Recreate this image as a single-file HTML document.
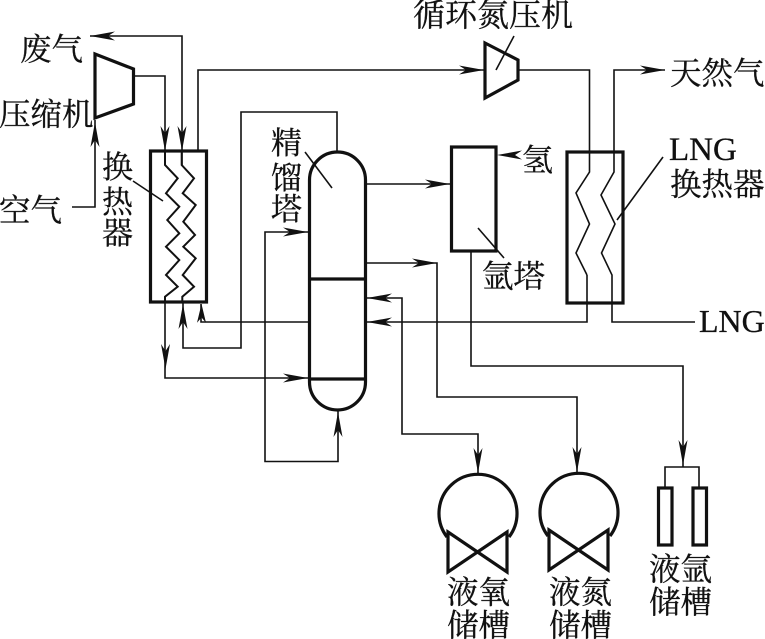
<!DOCTYPE html>
<html>
<head>
<meta charset="utf-8">
<style>
html,body{margin:0;padding:0;background:#fff}
svg{display:block}
text{font-family:"Liberation Serif","Noto Serif CJK SC",serif;font-size:31.500px;fill:#111;stroke:#111;stroke-width:.3}
.t{fill:none;stroke:#111;stroke-width:1.6}
.m{fill:none;stroke:#111;stroke-width:2}
.k{fill:none;stroke:#111;stroke-width:3.2}
</style>
</head>
<body>
<svg width="765" height="639" viewBox="0 0 765 639" xmlns="http://www.w3.org/2000/svg">
<defs><path id="a" d="M0 0L-25 -4.5L-18 0L-25 4.5Z" fill="#111"/></defs>

<!-- compressors -->
<path class="k" d="M95 54L133.500 69V104L95 118Z"/>
<path class="k" d="M485 43L518 60V80L485 98Z"/>

<!-- left piping -->
<path class="t" d="M90 36H182V165"/>
<path class="t" d="M134 76H165V165"/>
<path class="t" d="M72 207H95V120"/>
<path class="t" d="M198 151V70H485"/>
<path class="t" d="M183 303V348H241V112H337V152"/>
<path class="t" d="M165 297V378H309"/>
<path class="t" d="M201 304V322H309"/>

<!-- left heat exchanger -->
<rect class="k" x="150.500" y="151" width="56" height="151"/>
<path class="m" d="M165 150V165L177.700 178.300L166 193.300L179.300 206.700L167.300 220L179.300 233.300L166 246.700L179.300 260L166 275L177.700 286.700L165 296.700V302"/>
<path class="m" d="M181.700 150V165L194 178.300L182.700 193.300L195.700 205L183.300 221.700L195 235L183.300 246.700L195.700 258.300L182.700 275L194 286.700L182.300 296.700V302"/>

<!-- column -->
<path class="k" d="M309.500 180A28 28 0 0 1 365.500 180V382A28 28 0 0 1 309.500 382Z"/>
<path class="k" d="M309.500 279H365.500"/>
<path class="k" d="M309.500 379H365.500"/>
<path class="t" d="M309 232H265V461.500H338V411"/>

<!-- middle piping -->
<path class="t" d="M366 184H451"/>
<path class="t" d="M366 263H437V397H577V473"/>
<path class="t" d="M367 298H402V434H478V474"/>
<path class="t" d="M471 251V366H683V467"/>
<path class="t" d="M366 322H587V275"/>

<!-- argon tower -->
<rect class="k" x="451.500" y="147" width="44.500" height="104"/>

<!-- LNG heat exchanger -->
<rect class="k" x="567" y="152" width="56" height="151"/>
<path class="t" d="M519 70H589.500V172L576 193L589.500 224L576 253L587 275"/>
<path class="t" d="M695 322H612V275L601.500 253L615 224L601 195L614 172V70H665"/>

<!-- leaders -->
<path class="t" d="M133 181L163 201"/>
<path class="t" d="M305 152L332 188"/>
<path class="t" d="M514 36L496 70"/>
<path class="t" d="M663 157L617 220"/>
<path class="t" d="M478 228L504 258"/>

<!-- arrowheads -->
<use href="#a" transform="translate(90 36) rotate(180)"/>
<use href="#a" transform="translate(165 151) rotate(90)"/>
<use href="#a" transform="translate(182 151) rotate(90)"/>
<use href="#a" transform="translate(95 122) rotate(-90)"/>
<use href="#a" transform="translate(484 70)"/>
<use href="#a" transform="translate(665 70)"/>
<use href="#a" transform="translate(497 155) rotate(180)"/>
<use href="#a" transform="translate(450 184)"/>
<use href="#a" transform="translate(437 263)"/>
<use href="#a" transform="translate(308 232)"/>
<use href="#a" transform="translate(367 298) rotate(180)"/>
<use href="#a" transform="translate(367 322) rotate(180)"/>
<use href="#a" transform="translate(308 378)"/>
<use href="#a" transform="translate(338 412) rotate(-90)"/>
<use href="#a" transform="translate(183 304) rotate(-90)"/>
<use href="#a" transform="translate(201.500 304) rotate(-90) scale(.75 1)"/>
<use href="#a" transform="translate(165.500 369) rotate(90)"/>
<use href="#a" transform="translate(478 473) rotate(90)"/>
<use href="#a" transform="translate(577 472) rotate(90)"/>
<use href="#a" transform="translate(683 465) rotate(90)"/>

<!-- tanks -->
<path class="k" d="M447 537A39 39 0 1 1 509 537"/>
<path class="k" d="M448 532L507 572V532L448 572Z"/>
<path class="k" d="M548 536A39 39 0 1 1 610 536"/>
<path class="k" d="M549 530L608 570V530L549 570Z"/>
<path class="t" d="M665 488V467H699V488"/>
<rect class="k" x="658.500" y="488" width="13.500" height="57"/>
<rect class="k" x="693" y="488" width="13.500" height="57"/>

<!-- labels -->
<text x="20" y="60">废气</text>
<text x="-1" y="125">压缩机</text>
<text x="-1" y="221">空气</text>
<text x="102" y="178" style="font-size:31px">换</text>
<text x="102" y="213" style="font-size:31px">热</text>
<text x="102" y="244" style="font-size:31px">器</text>
<text x="271" y="154" style="font-size:31px">精</text>
<text x="271" y="189" style="font-size:31px">馏</text>
<text x="271" y="220" style="font-size:31px">塔</text>
<text x="413" y="26" style="font-size:32px">循环氮压机</text>
<text x="670" y="84">天然气</text>
<text x="522" y="171" style="font-size:31px">氢</text>
<text x="482" y="287">氩塔</text>
<text x="669" y="160" style="font-size:33px">LNG</text>
<text x="670" y="195">换热器</text>
<text x="699" y="332" style="font-size:32px">LNG</text>
<text x="447" y="603">液氧</text>
<text x="447" y="636">储槽</text>
<text x="549" y="603">液氮</text>
<text x="549" y="636">储槽</text>
<text x="649" y="580">液氩</text>
<text x="649" y="613">储槽</text>
</svg>
</body>
</html>
